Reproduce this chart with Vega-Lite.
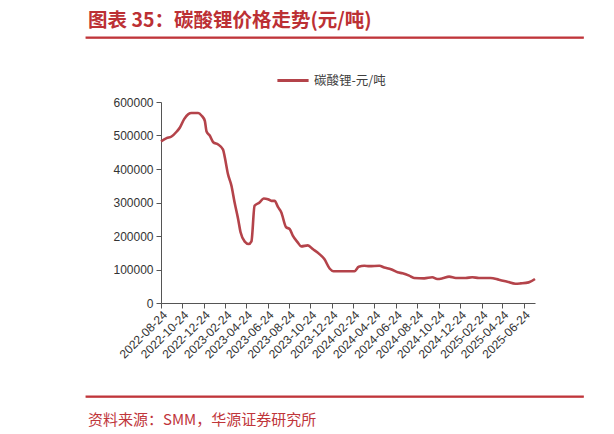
{
  "$schema": "https://vega.github.io/schema/vega-lite/v6.json",
  "background": "white",
  "padding": {"left": 85, "top": 10, "right": 0, "bottom": 0},
  "spacing": 28,
  "config": {
    "font": "Liberation Sans",
    "view": {"stroke": null}
  },
  "resolve": {"legend": {"color": "independent"}},
  "vconcat": [
    {
      "width": 497,
      "height": 1,
      "view": {"stroke": "#C0353A", "strokeWidth": 1.3, "fill": "#C0353A"},
      "title": {
        "text": "图表 35：碳酸锂价格走势(元/吨)",
        "anchor": "start",
        "orient": "top",
        "offset": 0,
        "dx": 2,
        "font": "Noto Sans CJK SC",
        "fontSize": 19.5,
        "fontWeight": "bold",
        "color": "#BC3034"
      },
      "data": {"values": [{"t": ""}]},
      "mark": {"type": "text"},
      "encoding": {"text": {"field": "t"}}
    },
    {
      "spacing": 0,
      "resolve": {"legend": {"color": "independent"}},
      "hconcat": [
        {
          "width": 26,
          "height": 1,
          "data": {"values": [{"t": ""}]},
          "mark": {"type": "text"},
          "encoding": {"text": {"field": "t"}}
        },
        {
          "width": 374,
          "height": 201,
          "data": {
            "values": [
              {"date": "2022-08-24", "price": 482000},
              {"date": "2022-09-09", "price": 492000},
              {"date": "2022-09-23", "price": 497000},
              {"date": "2022-10-08", "price": 512000},
              {"date": "2022-10-17", "price": 524000},
              {"date": "2022-10-29", "price": 549000},
              {"date": "2022-11-10", "price": 564000},
              {"date": "2022-11-19", "price": 567000},
              {"date": "2022-12-08", "price": 567000},
              {"date": "2022-12-18", "price": 559000},
              {"date": "2022-12-27", "price": 544000},
              {"date": "2023-01-01", "price": 512000},
              {"date": "2023-01-10", "price": 500000},
              {"date": "2023-01-20", "price": 480000},
              {"date": "2023-02-03", "price": 473000},
              {"date": "2023-02-17", "price": 458000},
              {"date": "2023-02-22", "price": 435000},
              {"date": "2023-03-03", "price": 385000},
              {"date": "2023-03-13", "price": 350000},
              {"date": "2023-03-22", "price": 300000},
              {"date": "2023-04-01", "price": 251000},
              {"date": "2023-04-08", "price": 211000},
              {"date": "2023-04-20", "price": 183000},
              {"date": "2023-05-01", "price": 176000},
              {"date": "2023-05-09", "price": 184000},
              {"date": "2023-05-18", "price": 290000},
              {"date": "2023-06-01", "price": 300000},
              {"date": "2023-06-13", "price": 312000},
              {"date": "2023-06-25", "price": 310000},
              {"date": "2023-07-05", "price": 305000},
              {"date": "2023-07-14", "price": 305000},
              {"date": "2023-07-24", "price": 286000},
              {"date": "2023-08-02", "price": 271000},
              {"date": "2023-08-16", "price": 226000},
              {"date": "2023-08-26", "price": 221000},
              {"date": "2023-09-04", "price": 201000},
              {"date": "2023-09-18", "price": 181000},
              {"date": "2023-09-28", "price": 169000},
              {"date": "2023-10-17", "price": 172000},
              {"date": "2023-10-31", "price": 161000},
              {"date": "2023-11-19", "price": 146000},
              {"date": "2023-12-03", "price": 131000},
              {"date": "2023-12-18", "price": 103000},
              {"date": "2023-12-29", "price": 95000},
              {"date": "2024-02-27", "price": 95000},
              {"date": "2024-03-10", "price": 108000},
              {"date": "2024-03-26", "price": 111000},
              {"date": "2024-04-09", "price": 110000},
              {"date": "2024-05-08", "price": 111000},
              {"date": "2024-05-22", "price": 106000},
              {"date": "2024-06-10", "price": 101000},
              {"date": "2024-06-29", "price": 91500},
              {"date": "2024-07-13", "price": 88600},
              {"date": "2024-08-01", "price": 81600},
              {"date": "2024-08-15", "price": 74600},
              {"date": "2024-09-13", "price": 73600},
              {"date": "2024-10-06", "price": 76700},
              {"date": "2024-10-20", "price": 71600},
              {"date": "2024-11-04", "price": 73600},
              {"date": "2024-11-23", "price": 78600},
              {"date": "2024-12-12", "price": 74600},
              {"date": "2025-01-09", "price": 74600},
              {"date": "2025-01-28", "price": 76700},
              {"date": "2025-02-16", "price": 74600},
              {"date": "2025-03-21", "price": 74600},
              {"date": "2025-04-14", "price": 69600},
              {"date": "2025-05-08", "price": 63600},
              {"date": "2025-05-31", "price": 57600},
              {"date": "2025-06-15", "price": 58600},
              {"date": "2025-07-08", "price": 61600},
              {"date": "2025-07-26", "price": 71600}
            ]
          },
          "mark": {"type": "line", "strokeWidth": 2.6, "interpolate": "monotone"},
          "encoding": {
            "x": {
              "field": "date",
              "type": "temporal",
              "scale": {
                "type": "utc",
                "domain": [
                  {"year": 2022, "month": 8, "date": 24, "utc": true},
                  {"year": 2025, "month": 7, "date": 26, "utc": true}
                ]
              },
              "axis": {
                "title": null,
                "values": [
                  {"year": 2022, "month": 8, "date": 24, "utc": true},
                  {"year": 2022, "month": 10, "date": 24, "utc": true},
                  {"year": 2022, "month": 12, "date": 24, "utc": true},
                  {"year": 2023, "month": 2, "date": 24, "utc": true},
                  {"year": 2023, "month": 4, "date": 24, "utc": true},
                  {"year": 2023, "month": 6, "date": 24, "utc": true},
                  {"year": 2023, "month": 8, "date": 24, "utc": true},
                  {"year": 2023, "month": 10, "date": 24, "utc": true},
                  {"year": 2023, "month": 12, "date": 24, "utc": true},
                  {"year": 2024, "month": 2, "date": 24, "utc": true},
                  {"year": 2024, "month": 4, "date": 24, "utc": true},
                  {"year": 2024, "month": 6, "date": 24, "utc": true},
                  {"year": 2024, "month": 8, "date": 24, "utc": true},
                  {"year": 2024, "month": 10, "date": 24, "utc": true},
                  {"year": 2024, "month": 12, "date": 24, "utc": true},
                  {"year": 2025, "month": 2, "date": 24, "utc": true},
                  {"year": 2025, "month": 4, "date": 24, "utc": true},
                  {"year": 2025, "month": 6, "date": 24, "utc": true}
                ],
                "format": "%Y-%m-%d",
                "labelAngle": -45,
                "labelAlign": "right",
                "labelBaseline": "top",
                "labelOverlap": false,
                "labelFontSize": 12,
                "labelColor": "#333333",
                "labelPadding": 1,
                "tickSize": 5,
                "tickColor": "#555555",
                "domainColor": "#555555",
                "grid": false
              }
            },
            "y": {
              "field": "price",
              "type": "quantitative",
              "scale": {"domain": [0, 600000], "nice": false},
              "axis": {
                "title": null,
                "values": [0, 100000, 200000, 300000, 400000, 500000, 600000],
                "format": "d",
                "labelFontSize": 12,
                "labelColor": "#333333",
                "labelPadding": 3,
                "tickSize": 5,
                "tickColor": "#555555",
                "domainColor": "#555555",
                "grid": false
              }
            },
            "color": {
              "datum": "碳酸锂-元/吨",
              "type": "nominal",
              "scale": {"range": ["#B4434A"]},
              "legend": {
                "title": null,
                "orient": "none",
                "legendX": 124,
                "legendY": -29.5,
                "symbolType": "M-2.4,0L2.4,0",
                "symbolSize": 169,
                "symbolStrokeWidth": 3,
                "labelFont": "Noto Sans CJK SC",
                "labelFontSize": 12.5,
                "labelColor": "#404040",
                "labelOffset": 13
              }
            }
          }
        }
      ]
    },
    {
      "width": 497,
      "height": 1,
      "view": {"stroke": "#C0353A", "strokeWidth": 1.3, "fill": "#C0353A"},
      "title": {
        "text": "资料来源：SMM，华源证券研究所",
        "anchor": "start",
        "orient": "bottom",
        "offset": 11,
        "dx": 2,
        "font": "Noto Sans CJK SC",
        "fontSize": 15,
        "fontWeight": "normal",
        "color": "#C0353A"
      },
      "data": {"values": [{"t": ""}]},
      "mark": {"type": "text"},
      "encoding": {"text": {"field": "t"}}
    }
  ]
}
